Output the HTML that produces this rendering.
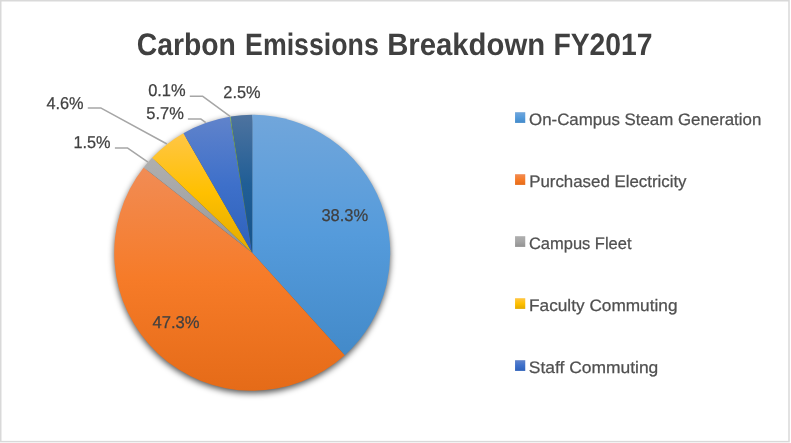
<!DOCTYPE html>
<html lang="en"><head><meta charset="utf-8"><title>Carbon Emissions Breakdown FY2017</title>
<style>html,body{margin:0;padding:0;background:#fff}svg{display:block}text{font-family:"Liberation Sans",sans-serif;text-rendering:geometricPrecision}</style></head><body>
<svg width="791" height="443" viewBox="0 0 791 443">
<defs>
<linearGradient id="g0" x1="0" y1="0" x2="0" y2="1"><stop offset="0" stop-color="#71A6DB"/><stop offset="0.5" stop-color="#559BDB"/><stop offset="1" stop-color="#438AC9"/></linearGradient>
<linearGradient id="g1" x1="0" y1="0" x2="0" y2="1"><stop offset="0" stop-color="#F18C55"/><stop offset="0.5" stop-color="#F67B28"/><stop offset="1" stop-color="#E56B18"/></linearGradient>
<linearGradient id="g2" x1="0" y1="0" x2="0" y2="1"><stop offset="0" stop-color="#AFAFAF"/><stop offset="0.5" stop-color="#A5A5A5"/><stop offset="1" stop-color="#929292"/></linearGradient>
<linearGradient id="g3" x1="0" y1="0" x2="0" y2="1"><stop offset="0" stop-color="#FFC646"/><stop offset="0.5" stop-color="#FFC000"/><stop offset="1" stop-color="#E2AA00"/></linearGradient>
<linearGradient id="g4" x1="0" y1="0" x2="0" y2="1"><stop offset="0" stop-color="#6083CB"/><stop offset="0.5" stop-color="#3E70CA"/><stop offset="1" stop-color="#2E61BA"/></linearGradient>
<linearGradient id="g5" x1="0" y1="0" x2="0" y2="1"><stop offset="0" stop-color="#81B861"/><stop offset="0.5" stop-color="#6FB242"/><stop offset="1" stop-color="#61A235"/></linearGradient>
<linearGradient id="g6" x1="0" y1="0" x2="0" y2="1"><stop offset="0" stop-color="#4E739F"/><stop offset="0.5" stop-color="#205E96"/><stop offset="1" stop-color="#16538A"/></linearGradient>
<filter id="sh" x="-10%" y="-10%" width="120%" height="120%"><feGaussianBlur stdDeviation="3.2"/></filter>
</defs>
<rect x="0" y="0" width="791" height="443" fill="#fff"/>
<rect x="0.75" y="0.75" width="788.25" height="440.85" fill="#fff" stroke="#D9D9D9" stroke-width="1.5"/>
<g font-size="31.0" font-weight="bold" fill="#404040">
<text x="136.66" y="55.2" textLength="99.22" lengthAdjust="spacingAndGlyphs">Carbon</text>
<text x="245.12" y="55.2" textLength="133.66" lengthAdjust="spacingAndGlyphs">Emissions</text>
<text x="387.15" y="55.2" textLength="157.96" lengthAdjust="spacingAndGlyphs">Breakdown</text>
<text x="553.42" y="55.2" textLength="99.15" lengthAdjust="spacingAndGlyphs">FY2017</text>
</g>
<circle cx="252.2" cy="255.3" r="138.0" fill="#000" fill-opacity="0.68" filter="url(#sh)"/>
<path d="M252.20,252.80 L252.20,114.80 A138.0,138.0 0 0 1 344.75,355.16 Z" fill="url(#g0)"/>
<path d="M252.20,252.80 L344.75,355.16 A138.0,138.0 0 0 1 143.69,167.54 Z" fill="url(#g1)"/>
<path d="M252.20,252.80 L143.69,167.54 A138.0,138.0 0 0 1 152.20,157.70 Z" fill="url(#g2)"/>
<path d="M252.20,252.80 L152.20,157.70 A138.0,138.0 0 0 1 183.45,133.14 Z" fill="url(#g3)"/>
<path d="M252.20,252.80 L183.45,133.14 A138.0,138.0 0 0 1 229.76,116.64 Z" fill="url(#g4)"/>
<path d="M252.20,252.80 L229.76,116.64 A138.0,138.0 0 0 1 230.61,116.50 Z" fill="url(#g5)"/>
<path d="M252.20,252.80 L230.61,116.50 A138.0,138.0 0 0 1 252.20,114.80 Z" fill="url(#g6)"/>
<polyline points="87.8,108.1 101.1,108.1 167.0,144.0" fill="none" stroke="#A6A6A6" stroke-width="1.5" stroke-linejoin="round"/>
<polyline points="114.9,148.1 127.7,148.1 148.0,162.2" fill="none" stroke="#A6A6A6" stroke-width="1.5" stroke-linejoin="round"/>
<polyline points="189.8,96.3 202.8,96.3 230.1,116.3" fill="none" stroke="#A6A6A6" stroke-width="1.5" stroke-linejoin="round"/>
<polyline points="187.9,119.1 201.0,119.1 205.8,122.7" fill="none" stroke="#A6A6A6" stroke-width="1.5" stroke-linejoin="round"/>
<g font-size="17.1" fill="#404040" stroke="#404040" stroke-width="0.25">
<text x="321.44" y="221.0" textLength="46.75" lengthAdjust="spacingAndGlyphs">38.3%</text>
<text x="152.44" y="328.1" textLength="47.06" lengthAdjust="spacingAndGlyphs">47.3%</text>
<text x="73.45" y="148.0" textLength="37.12" lengthAdjust="spacingAndGlyphs">1.5%</text>
<text x="46.44" y="109.0" textLength="37.13" lengthAdjust="spacingAndGlyphs">4.6%</text>
<text x="146.24" y="119.0" textLength="37.54" lengthAdjust="spacingAndGlyphs">5.7%</text>
<text x="148.14" y="96.0" textLength="37.44" lengthAdjust="spacingAndGlyphs">0.1%</text>
<text x="223.36" y="98.0" textLength="37.21" lengthAdjust="spacingAndGlyphs">2.5%</text>
</g>
<g font-size="16.6" fill="#505050" stroke="#505050" stroke-width="0.25">
<rect x="515.05" y="112.20" width="10.2" height="10.7" fill="url(#g0)" stroke="none"/>
<text x="529.08" y="124.85" textLength="232.20" lengthAdjust="spacingAndGlyphs">On-Campus Steam Generation</text>
<rect x="515.05" y="174.20" width="10.2" height="10.7" fill="url(#g1)" stroke="none"/>
<text x="529.20" y="186.85" textLength="157.35" lengthAdjust="spacingAndGlyphs">Purchased Electricity</text>
<rect x="515.05" y="236.20" width="10.2" height="10.7" fill="url(#g2)" stroke="none"/>
<text x="528.93" y="248.85" textLength="102.60" lengthAdjust="spacingAndGlyphs">Campus Fleet</text>
<rect x="515.05" y="298.20" width="10.2" height="10.7" fill="url(#g3)" stroke="none"/>
<text x="529.07" y="310.85" textLength="148.41" lengthAdjust="spacingAndGlyphs">Faculty Commuting</text>
<rect x="515.05" y="360.20" width="10.2" height="10.7" fill="url(#g4)" stroke="none"/>
<text x="528.81" y="372.85" textLength="129.51" lengthAdjust="spacingAndGlyphs">Staff Commuting</text>
</g>
</svg></body></html>
